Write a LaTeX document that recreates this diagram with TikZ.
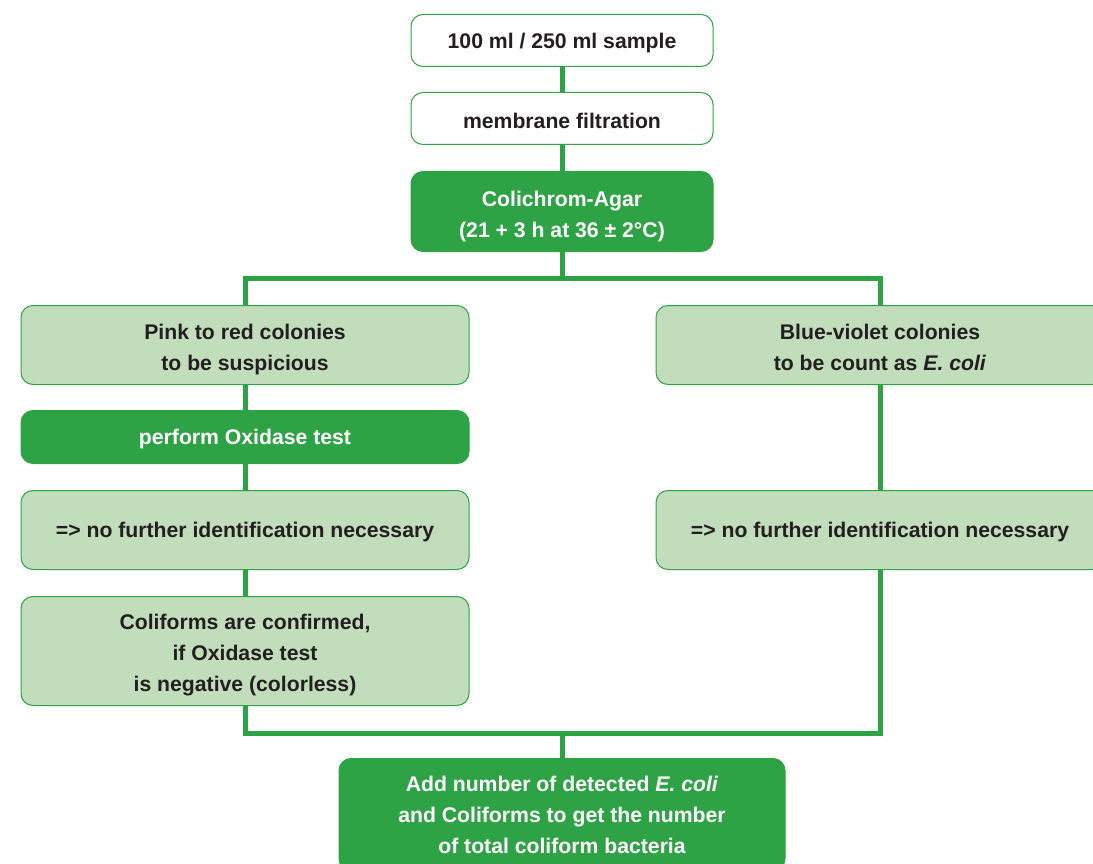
\documentclass[tikz,border=0pt]{standalone}
\usepackage{fontspec}
\setmainfont{Liberation Sans}
\definecolor{dkgreen}{HTML}{2EA345}
\definecolor{ltgreen}{HTML}{C2DDBB}
\definecolor{txt}{HTML}{231F20}
\newcommand\mlines[2][4pt]{\raisebox{-#1}[\height][\depth]{\begin{tabular}{@{}c@{}}#2\end{tabular}}}
\begin{document}
\begin{tikzpicture}[x=1pt,y=-1pt,
  box/.style={draw=dkgreen,line width=1pt,rounded corners=12pt,align=center,
    font=\fontsize{21.2}{31}\selectfont\bfseries,inner sep=0pt,anchor=north},
  oneline/.style={execute at begin node={\rule{0pt}{20pt}}},
  whitebox/.style={box,fill=white,text=txt},
  darkbox/.style={box,fill=dkgreen,text=white},
  lightbox/.style={box,fill=ltgreen,text=txt},
  conn/.style={draw=dkgreen,line width=5pt}]
\useasboundingbox (0,0) rectangle (1093,864);
\clip (0,0) rectangle (1093,864);
% nodes
\node[whitebox,oneline,minimum width=302pt,minimum height=52pt] (sample) at (562,14) {100 ml / 250 ml sample};
\node[whitebox,oneline,minimum width=302pt,minimum height=52pt] (filt) at (562,92) {membrane filtration};
\node[darkbox,minimum width=302pt,minimum height=80pt] (agar) at (562,171) {\mlines{Colichrom-Agar\\(21 + 3 h at 36 ± 2°C)}};
\node[lightbox,minimum width=448pt,minimum height=79pt] (pink) at (245,305) {\mlines{Pink to red colonies\\to be suspicious}};
\node[lightbox,minimum width=448pt,minimum height=79pt] (blue) at (880,305) {\mlines{Blue-violet colonies\\to be count as \textit{E. coli}}};
\node[darkbox,oneline,minimum width=448pt,minimum height=53pt] (oxi) at (245,410) {perform Oxidase test};
\node[lightbox,oneline,minimum width=448pt,minimum height=79pt] (noL) at (245,490) {=> no further identification necessary};
\node[lightbox,oneline,minimum width=448pt,minimum height=79pt] (noR) at (880,490) {=> no further identification necessary};
\node[lightbox,minimum width=448pt,minimum height=109pt] (coli) at (245,596) {\mlines[3.5pt]{Coliforms are confirmed,\\if Oxidase test\\is negative (colorless)}};
\node[darkbox,minimum width=446pt,minimum height=112pt] (final) at (562,758) {\mlines[2pt]{Add number of detected \textit{E. coli}\\and Coliforms to get the number\\of total coliform bacteria}};
% junctions
\coordinate (tm) at (562,278);
\coordinate (tl) at (245,278);
\coordinate (tr) at (880,278);
\coordinate (bm) at (562,733);
\coordinate (bl) at (245,733);
\coordinate (br) at (880,733);
% connectors
\draw[conn] (sample.south) -- (filt.north);
\draw[conn] (filt.south) -- (agar.north);
\draw[conn] (agar.south) -- (tm);
\draw[conn] (pink.north) -- (tl) -- (tr) -- (blue.north);
\draw[conn] (pink.south) -- (oxi.north);
\draw[conn] (oxi.south) -- (noL.north);
\draw[conn] (noL.south) -- (coli.north);
\draw[conn] (blue.south) -- (noR.north);
\draw[conn] (coli.south) -- (bl) -- (br) -- (noR.south);
\draw[conn] (bm) -- (final.north);
\end{tikzpicture}
\end{document}
